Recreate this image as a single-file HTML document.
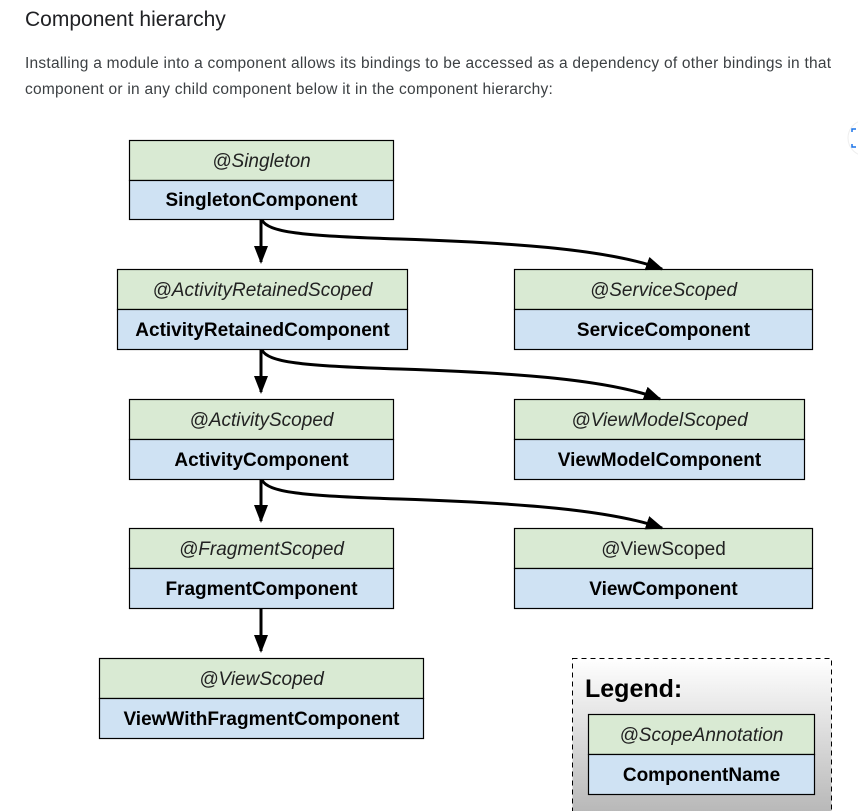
<!DOCTYPE html>
<html><head><meta charset="utf-8"><style>
html,body{margin:0;padding:0;background:#fff;width:858px;height:811px;overflow:hidden}
h2{position:absolute;left:25px;top:8px;margin:0;font:21px "Liberation Sans",sans-serif;color:#202124;letter-spacing:0px}
p{position:absolute;left:25px;top:51px;margin:0;width:830px;font:15.5px/26px "Liberation Sans",sans-serif;color:#3c4043;letter-spacing:0.25px}
svg{position:absolute;left:0;top:0}
</style></head><body>
<h2>Component hierarchy</h2>
<p>Installing a module into a component allows its bindings to be accessed as a dependency of other bindings in that component or in any child component below it in the component hierarchy:</p>
<svg width="858" height="811" viewBox="0 0 858 811" font-family="Liberation Sans, Arial, sans-serif">
<defs>
<linearGradient id="g" x1="0" y1="0" x2="0" y2="1"><stop offset="0" stop-color="#fff"/><stop offset="1" stop-color="#b5b5b5"/></linearGradient>
<marker id="b" markerWidth="18" markerHeight="14" refX="16" refY="7" orient="auto" markerUnits="userSpaceOnUse"><path d="M0,0 L18,7 L0,14 z" fill="#000"/></marker>
</defs>
<rect x="572.5" y="658.5" width="259" height="160" fill="url(#g)" stroke="#000" stroke-dasharray="5,4"/>
<text x="585" y="697" font-size="25" font-weight="bold">Legend:</text>
<g stroke="#000" stroke-width="1.2">
<rect x="129.5" y="140.5" width="264" height="40" fill="#d9ead3"/><rect x="129.5" y="180.5" width="264" height="39" fill="#cfe2f3"/>
<rect x="117.5" y="269.5" width="290" height="40" fill="#d9ead3"/><rect x="117.5" y="309.5" width="290" height="40" fill="#cfe2f3"/>
<rect x="514.5" y="269.5" width="298" height="40" fill="#d9ead3"/><rect x="514.5" y="309.5" width="298" height="40" fill="#cfe2f3"/>
<rect x="129.5" y="399.5" width="264" height="40" fill="#d9ead3"/><rect x="129.5" y="439.5" width="264" height="40" fill="#cfe2f3"/>
<rect x="514.5" y="399.5" width="290" height="40" fill="#d9ead3"/><rect x="514.5" y="439.5" width="290" height="40" fill="#cfe2f3"/>
<rect x="129.5" y="528.5" width="264" height="40" fill="#d9ead3"/><rect x="129.5" y="568.5" width="264" height="40" fill="#cfe2f3"/>
<rect x="514.5" y="528.5" width="298" height="40" fill="#d9ead3"/><rect x="514.5" y="568.5" width="298" height="40" fill="#cfe2f3"/>
<rect x="99.5" y="658.5" width="324" height="40" fill="#d9ead3"/><rect x="99.5" y="698.5" width="324" height="40" fill="#cfe2f3"/>
<rect x="588.5" y="714.5" width="226" height="40" fill="#d9ead3"/><rect x="588.5" y="754.5" width="226" height="40" fill="#cfe2f3"/>
</g>
<g stroke="#000" stroke-width="3" fill="none">
<path d="M261,220 V262" marker-end="url(#b)"/>
<path d="M261,350 V392" marker-end="url(#b)"/>
<path d="M261,480 V521" marker-end="url(#b)"/>
<path d="M261,609 V651" marker-end="url(#b)"/>
<path d="M262,220 C268,232 300,236 400,239 C520,243 610,250 662,269" marker-end="url(#b)"/>
<path d="M262,350 C268,362 300,366 400,369 C520,373 610,380 660,399" marker-end="url(#b)"/>
<path d="M262,480 C268,492 300,496 400,499 C520,503 610,510 662,528" marker-end="url(#b)"/>
</g>
<g font-size="19" text-anchor="middle" fill="#000">
<g font-style="italic" fill="#222">
<text x="261.5" y="167">@Singleton</text>
<text x="262.5" y="296">@ActivityRetainedScoped</text>
<text x="663.5" y="296">@ServiceScoped</text>
<text x="261.5" y="426">@ActivityScoped</text>
<text x="659.5" y="426">@ViewModelScoped</text>
<text x="261.5" y="555">@FragmentScoped</text>
<text x="663.5" y="555" font-style="normal">@ViewScoped</text>
<text x="261.5" y="685">@ViewScoped</text>
<text x="701.5" y="741">@ScopeAnnotation</text>
</g>
<g font-weight="bold">
<text x="261.5" y="206">SingletonComponent</text>
<text x="262.5" y="336">ActivityRetainedComponent</text>
<text x="663.5" y="336">ServiceComponent</text>
<text x="261.5" y="466">ActivityComponent</text>
<text x="659.5" y="466">ViewModelComponent</text>
<text x="261.5" y="595">FragmentComponent</text>
<text x="663.5" y="595">ViewComponent</text>
<text x="261.5" y="725">ViewWithFragmentComponent</text>
<text x="701.5" y="781">ComponentName</text>
</g>
</g>
<circle cx="866" cy="138" r="18" fill="#fff" stroke="#eee"/>
<path d="M852,132 v-3 h4 M852,144 v3 h4" stroke="#1a73e8" stroke-width="1.5" fill="none"/>
</svg>
</body></html>
